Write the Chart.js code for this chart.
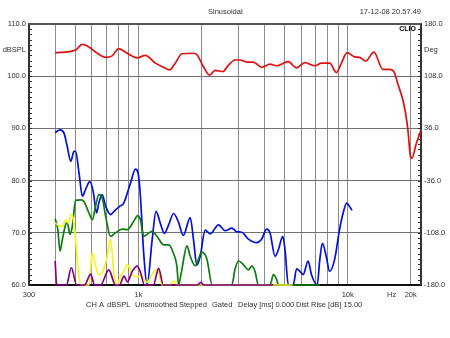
<!DOCTYPE html>
<html>
<head>
<meta charset="utf-8">
<script src="https://cdn.jsdelivr.net/npm/chart.js@4.4.0/dist/chart.umd.min.js"></script>
<style>
  body { margin: 0; background: #fff; }
  canvas { display: block; }
</style>
</head>
<body>
<canvas id="clioChart" width="450" height="338"></canvas>
<script>
// fundamental (red)
var fundHz = [400,501,539,570,636,697,749,806,884,986,1080,1205,1320,1410,1500,1615,1834,1904,2047,2187,2326,2531,2692,2897,3061,3294,3540,3882,4253,4575,5196,5700,6240,6965,7497,8204,8830,9330,9930,10800,11410,12180,13340,14720,15850,16750,17300,18340,18900,19400,19900,20300,21200,22400];
var fundDb = [104.5,105.0,106.1,105.8,104.4,103.6,103.9,105.3,104.4,103.5,104.0,102.5,101.7,101.2,102.5,104.3,104.4,104.1,101.8,100.2,101.1,100.9,102.1,103.1,103.1,102.7,102.7,101.7,102.3,102.0,102.8,101.6,102.6,102.0,102.5,102.5,100.7,102.5,104.5,103.7,103.6,102.9,104.6,101.3,101.3,100.6,98.7,95.5,92.9,89.7,84.9,84.3,86.9,89.7];

// 2nd harmonic (blue)
var h2Hz = [400,422,441,457,475,492,501,520,540,559,586,608,631,647,671,697,736,777,815,851,916,968,997,1022,1060,1100,1162,1214,1273,1330,1394,1473,1555,1639,1768,1833,1902,1973,2085,2202,2414,2594,2794,2952,3116,3355,3675,3883,4096,4253,4497,4668,4894,5016,5205,5495,5698,5908,6126,6470,6709,7146,7360,7569,7895,8199,8662,9142,9471,9893,10183,10480];
var h2Db = [89.2,89.7,89.1,86.5,83.7,85.6,85.6,81.5,77.0,78.3,79.8,77.9,73.8,75.7,77.3,75.1,73.5,74.4,75.1,75.7,79.5,82.2,81.4,77.0,66.0,60,68.5,74.1,71.8,69.9,71.5,73.7,72.0,69.5,72.9,68.7,63.8,65.5,70.5,69.8,71.5,70.4,70.9,70.2,70.1,68.8,68.1,68.8,70.7,70.0,65.5,66.8,69.3,66.8,60,60,63.1,62.6,62.0,64.6,62.0,60,64.9,68.0,65.5,62.6,64.9,70.6,73.5,75.7,75.1,74.3];

// 3rd harmonic (green)
var h3Hz = [400,412,422,433,449,457,471,483,501,530,549,580,602,624,647,671,697,736,777,836,884,950,992,1022,1060,1100,1162,1228,1320,1394,1473,1528,1555,1605,1706,1768,1868,2010,2123,2253,2794,2897,3010,3174,3355,3478,3608,3742,4253,4419,4584,4668,7360];
var h3Db = [72.7,70.6,66.5,68.7,71.6,72.0,69.7,71.2,76.2,76.3,76.0,73.8,72.5,75.1,77.3,76.7,73.2,69.3,70.0,70.7,70.6,72.2,73.3,72.5,69.3,69.7,70.3,69.3,67.7,67.7,66.0,63.5,60,62.5,67.5,65.5,63.7,66.3,65.0,60,60,63.1,64.6,63.9,62.9,63.6,62.6,60,60,62.0,61.0,60,60];

// 4th harmonic (yellow)
var h4Hz = [400,416,433,449,461,478,489,501,514,530,580,602,624,647,671,704,736,763,792,821,851,884,935,986,1022,1100,1180,1228,1297,1420,1473,1528,5450];
var h4Db = [71.9,71.4,71.2,72.5,71.9,73.5,72.5,68.7,63.6,60,60,66.2,63.6,62.0,62.3,64.9,68.8,62.3,60,61.7,62.6,63.9,62.0,61.5,61.8,60.5,62.5,63.0,60,60,60.8,60,60];

// 5th harmonic (purple)
var h5Hz = [400,407,453,478,507,553,591,617,659,722,777,812,853,886,934,986,1022,1068,1179,1249,1315,1910,1985,2063,4400];
var h5Db = [64.6,60,60,63.3,60,60,62.1,60,60,62.9,60,60,61.7,60.6,62.6,63.6,62.5,60,60,63.2,60,60,60.5,60,60];

// axes
var xTickVals = [300,400,500,600,700,800,900,1000,2000,3000,4000,5000,6000,7000,8000,9000,10000,16200,20000,22400];
var xTickText = ['300','','','','','','','1k','','','','','','','','','10k','Hz','20k',''];
var yTickVals = [60,70,80,90,100,105,110];
var yTickText = ['60.0','70.0','80.0','90.0','100.0','dBSPL','110.0'];
var phaseTickVals = [-180,-108,-36,36,108,144,180];
var phaseTickText = ['-180.0','-108.0','-36.0','36.0','108.0','Deg','180.0'];

function toPoints(hz, db) {
    return hz.map(function (f, i) { return { x: f, y: db[i] }; });
}

var labelFont = { family: '"Liberation Sans", Arial, sans-serif', size: 7.5 };

var framePlugin = {
    id: 'frame',
    beforeDatasetsDraw: function (chart) {
        var ctx = chart.ctx, a = chart.chartArea, ys = chart.scales.y;
        ctx.save();
        ctx.strokeStyle = '#555';
        ctx.lineWidth = 2;
        ctx.beginPath();
        ctx.moveTo(a.left, a.top);
        ctx.lineTo(a.right, a.top);
        ctx.stroke();
        // small ticks along both side borders
        ctx.strokeStyle = '#333';
        ctx.lineWidth = 1;
        ctx.beginPath();
        for (var v = 61; v < 110; v++) {
            var y = Math.round(ys.getPixelForValue(v)) + 0.5;
            ctx.moveTo(a.left, y); ctx.lineTo(a.left + 3, y);
            ctx.moveTo(a.right - 3, y); ctx.lineTo(a.right, y);
        }
        ctx.stroke();
        ctx.restore();
    },
    afterDraw: function (chart) {
        var ctx = chart.ctx;
        ctx.save();
        ctx.fillStyle = '#333';
        ctx.font = '7.5px "Liberation Sans", Arial, sans-serif';
        ctx.textBaseline = 'middle';
        ctx.textAlign = 'left';
        ctx.fillText('Sinusoidal', 208, 12);
        ctx.textAlign = 'right';
        ctx.fillText('17-12-08 20.57.49', 421, 12);
        // footer
        var items = ['CH A', 'dBSPL', 'Unsmoothed', 'Stepped', 'Gated', 'Delay [ms] 0.000', 'Dist Rise [dB] 15.00'];
        var xs = [86, 107, 135, 179, 212, 238, 296];
        ctx.textAlign = 'left';
        for (var i = 0; i < items.length; i++) {
            ctx.fillText(items[i], xs[i], 305);
        }
        ctx.fillStyle = '#000';
        ctx.font = 'bold 7px "Liberation Sans", Arial, sans-serif';
        ctx.textAlign = 'right';
        ctx.fillText('CLIO', 416, 29);
        ctx.restore();
    }
};

function series(hz, db, color, order) {
    return {
        data: toPoints(hz, db),
        borderColor: color,
        borderWidth: 1.7,
        pointRadius: 0,
        fill: false,
        cubicInterpolationMode: 'monotone',
        clip: 2,
        order: order
    };
}

var ctx = document.getElementById('clioChart').getContext('2d');
new Chart(ctx, {
    type: 'line',
    data: {
        datasets: [
            series(fundHz, fundDb, '#e01010', 4),
            series(h2Hz, h2Db, '#0010d8', 3),
            series(h3Hz, h3Db, '#0a7d0a', 2),
            series(h4Hz, h4Db, '#f5f520', 1),
            series(h5Hz, h5Db, '#800080', 0)
        ]
    },
    options: {
        responsive: false,
        animation: false,
        layout: { padding: { top: 24, left: 0, right: 0, bottom: 0 } },
        plugins: { legend: { display: false }, tooltip: { enabled: false } },
        scales: {
            x: {
                type: 'logarithmic',
                min: 300,
                max: 22400,
                afterBuildTicks: function (s) { s.ticks = xTickVals.map(function (v) { return { value: v }; }); },
                afterFit: function (s) { s.height = 53; },
                border: { display: true, color: '#111', width: 2 },
                grid: {
                    drawTicks: false,
                    lineWidth: 1,
                    color: function (c) {
                        var v = c.tick ? c.tick.value : 0;
                        return (v === 300 || v === 16200 || v === 22400) ? 'rgba(0,0,0,0)' : '#8a8a8a';
                    }
                },
                ticks: {
                    autoSkip: false,
                    maxRotation: 0,
                    padding: 5,
                    color: '#333',
                    font: labelFont,
                    callback: function (v, i) { return xTickText[i]; }
                }
            },
            y: {
                type: 'linear',
                position: 'left',
                min: 60,
                max: 110,
                afterBuildTicks: function (s) { s.ticks = yTickVals.map(function (v) { return { value: v }; }); },
                afterFit: function (s) { s.width = 29; },
                border: { display: true, color: '#333', width: 2 },
                grid: {
                    drawTicks: false,
                    lineWidth: 1,
                    color: function (c) {
                        var v = c.tick ? c.tick.value : 0;
                        return (v === 60 || v === 105 || v === 110) ? 'rgba(0,0,0,0)' : '#707070';
                    }
                },
                ticks: {
                    padding: 3,
                    color: '#333',
                    font: labelFont,
                    callback: function (v, i) { return yTickText[i]; }
                }
            },
            phase: {
                type: 'linear',
                position: 'right',
                min: -180,
                max: 180,
                afterBuildTicks: function (s) { s.ticks = phaseTickVals.map(function (v) { return { value: v }; }); },
                afterFit: function (s) { s.width = 29; },
                border: { display: true, color: '#333', width: 2 },
                grid: { display: false, drawTicks: false },
                ticks: {
                    padding: 3,
                    color: '#333',
                    font: labelFont,
                    callback: function (v, i) { return phaseTickText[i]; }
                }
            }
        }
    },
    plugins: [framePlugin]
});
</script>
</body>
</html>
